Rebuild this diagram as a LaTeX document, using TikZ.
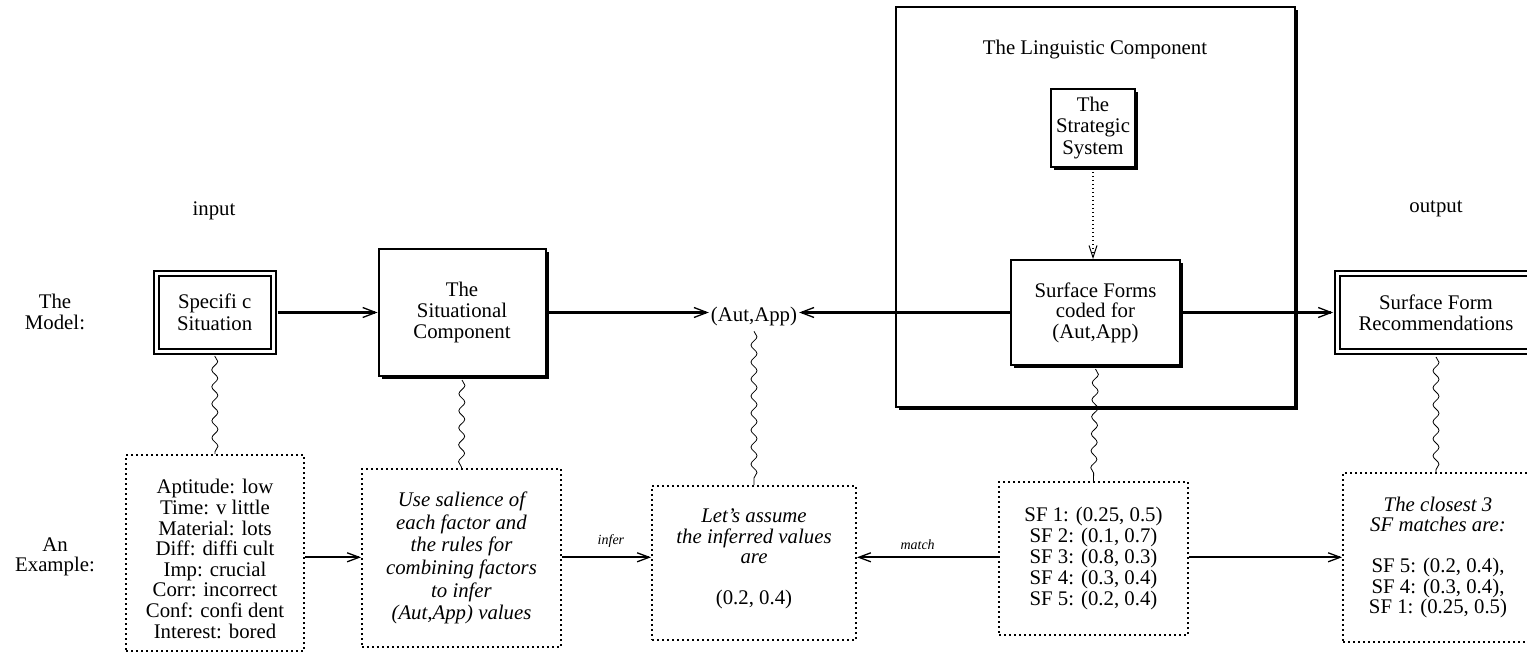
\documentclass[tikz,border=0pt]{standalone}
\usepackage{fontspec}
\setmainfont{Liberation Serif}
\usetikzlibrary{arrows.meta, decorations.pathmorphing, shadows}

\begin{document}
\begin{tikzpicture}[x=1pt, y=-1pt,
  every node/.style={font=\fontsize{20.8}{20.6}\selectfont, inner sep=0pt, align=center},
  solidbox/.style={draw, line width=2pt, fill=white,
    drop shadow={shadow xshift=3pt, shadow yshift=-3pt, opacity=1, fill=black}},
  dblbox/.style={draw, line width=2pt, double, double distance=3pt},
  dotbox/.style={draw, line width=2pt, dash pattern=on 2pt off 3pt},
  flow/.style={line width=3pt, -{Straight Barb[length=13pt, width=10pt, line width'=1.3pt]}},
  exflow/.style={line width=2pt, -{Straight Barb[length=12pt, width=9pt, line width'=1.3pt]}},
  dotflow/.style={line width=1.5pt, dash pattern=on 1.5pt off 2.5pt,
    -{Straight Barb[length=12pt, width=8pt, line width'=1pt]}},
  wavy/.style={line width=0.8pt, decorate,
    decoration={snake, segment length=17pt, amplitude=3pt}},
  lbl/.style={font=\fontsize{14}{14}\selectfont\itshape},
]
\useasboundingbox (0,0) rectangle (1527,663);
\clip (0,0) rectangle (1527,663);

% row and column headings
\node (model) at (55,312) {The\\Model:};
\node (example) at (55,557) {An\\Example:};
\node (input) at (214,211) {input};
\node (output) at (1436,209) {output};

% the linguistic component and what it contains
\node[solidbox, minimum width=399pt, minimum height=400pt] (ling) at (1095.5,207) {};
\node (lingtitle) at (1095,50) {The Linguistic Component};
\node[solidbox, minimum width=84pt, minimum height=78pt,
      font=\fontsize{20.8}{21.5}\selectfont] (strat) at (1093,128) {The\\Strategic\\System};
\node[solidbox, minimum width=169pt, minimum height=105pt] (sf) at (1095.5,312.5)
  {Surface Forms\\coded for\\(Aut,App)};

% the model row
\node[dblbox, minimum width=117pt, minimum height=78pt,
      font=\fontsize{20.8}{22}\selectfont] (spec) at (214.7,312.5) {Specifi c\\Situation};
\node[solidbox, minimum width=167pt, minimum height=127pt] (sit) at (462,312.5)
  {The\\Situational\\Component};
\node[anchor=base, inner xsep=2pt, inner ysep=5pt] (aa) at (754,321.7) {(Aut,App)};
\node[dblbox, minimum width=197pt, minimum height=77pt] (sfr) at (1436,312.5)
  {Surface Form\\Recommendations};

\draw[flow, shorten <=3.5pt] (spec.east) -- (sit.west);
\draw[flow] (sit.east) -- (sit.east -| aa.west);
\draw[flow] (sf.west) -- (sf.west -| aa.east);
\draw[flow, shorten >=3.5pt] (sf.east) -- (sfr.west);
\draw[dotflow] (strat.south) -- (strat.south |- sf.north);

% the example row
\node[dotbox, minimum width=178pt, minimum height=196pt] (b1) at (215,553) {};
\node (b1txt) at (215,559)
  {Aptitude: low\\Time: v little\\Material: lots\\Diff: diffi cult\\Imp: crucial\\
   Corr: incorrect\\Conf: confi dent\\Interest: bored};
\node[dotbox, minimum width=199pt, minimum height=178pt,
      font=\fontsize{20.8}{22.7}\selectfont\itshape] (b2) at (461.5,558)
  {Use salience of\\each factor and\\the rules for\\combining factors\\to infer\\(Aut,App) values};
\node[dotbox, minimum width=204pt, minimum height=154pt] (b3) at (754,563) {};
\node (b3txt) at (754,559)
  {\textit{Let’s assume}\\\textit{the inferred values}\\\textit{are}\\[20.6pt](0.2, 0.4)};
\node[dotbox, minimum width=189pt, minimum height=153pt,
      font=\fontsize{20.8}{21}\selectfont] (b4) at (1093.5,558.5)
  {SF 1: (0.25, 0.5)\\SF 2: (0.1, 0.7)\\SF 3: (0.8, 0.3)\\SF 4: (0.3, 0.4)\\SF 5: (0.2, 0.4)};
\node[dotbox, minimum width=190pt, minimum height=169pt,
      font=\fontsize{20.8}{20.4}\selectfont] (b5) at (1438,557.5)
  {\textit{The closest 3}\\\textit{SF matches are:}\\[20.4pt]SF 5: (0.2, 0.4),\\SF 4: (0.3, 0.4),\\SF 1: (0.25, 0.5)};

\coordinate (row) at (0,557.3);
\draw[exflow] (b1.east |- row) -- (b2.west |- row);
\draw[exflow] (b2.east |- row) -- (b3.west |- row)
  node[lbl, pos=0.55, above=9pt] (infer) {infer};
\draw[exflow] (b4.west |- row) -- (b3.east |- row)
  node[lbl, pos=0.57, above=7pt] (match) {match};
\draw[exflow] (b4.east |- row) -- (b5.west |- row);

% links from each part of the model to its example
\draw[wavy] (spec.south) ++(0,-3.5pt) -- (b1.north);
\draw[wavy] (sit.south) ++(0,-3pt) -- (b2.north);
\draw[wavy] (aa.south) -- (b3.north);
\draw[wavy] (sf.south) ++(0,-3pt) -- (b4.north);
\draw[wavy] (sfr.south) ++(0,-5pt) -- (sfr.south |- b5.north);
\end{tikzpicture}
\end{document}
